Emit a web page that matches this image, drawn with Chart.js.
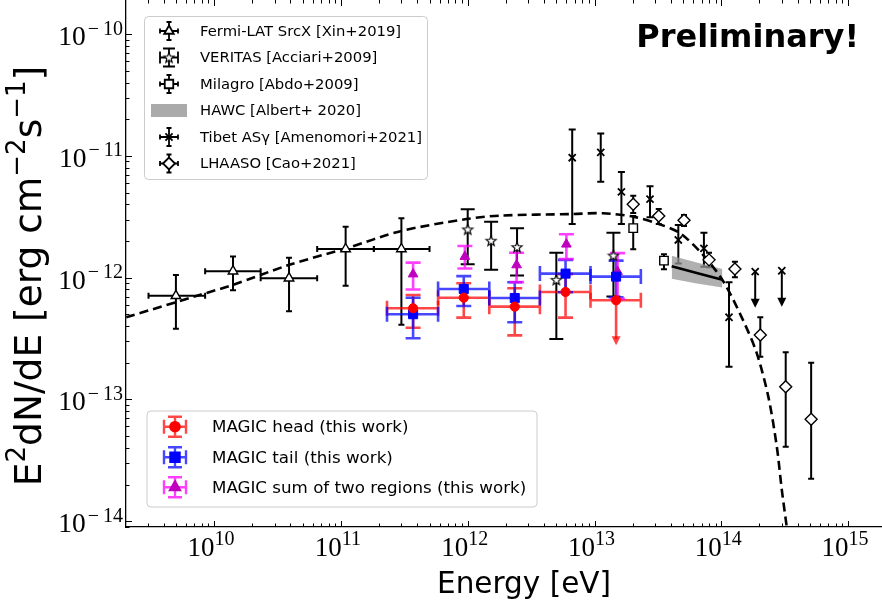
<!DOCTYPE html>
<html>
<head>
<meta charset="UTF-8">
<title>Spectral energy distribution</title>
<style>
  body { margin: 0; background: #fff; }
  canvas { display: block; }
</style>
<script src="https://cdn.jsdelivr.net/npm/chart.js@4.4.0/dist/chart.umd.min.js"></script>
</head>
<body>
<canvas id="canvas" width="882" height="610"></canvas>
<script>
// ---- data (E in eV, E^2 dN/dE in erg cm^-2 s^-1) ----
var fermiE    = [5.0e9, 1.41e10, 3.9e10, 1.09e11, 3.0e11];
var fermiELo  = [3.04e9, 8.5e9, 2.33e10, 6.5e10, 1.82e11];
var fermiEHi  = [8.5e9, 2.33e10, 6.5e10, 1.82e11, 5.0e11];
var fermiF    = [7.1e-13, 1.13e-12, 9.9e-13, 1.72e-12, 1.72e-12];
var fermiFLo  = [3.8e-13, 7.9e-13, 5.3e-13, 8.6e-13, 4.1e-13];
var fermiFHi  = [1.05e-12, 1.49e-12, 1.46e-12, 2.62e-12, 3.08e-12];

var verE   = [1.0e12, 1.53e12, 2.45e12, 5.0e12, 1.41e13];
var verF   = [2.49e-12, 2.01e-12, 1.78e-12, 9.6e-13, 1.52e-12];
var verFLo = [1.29e-12, 1.16e-12, 1.04e-12, 3.14e-13, 7.0e-13];
var verFHi = [3.65e-12, 2.88e-12, 2.55e-12, 1.60e-12, 2.34e-12];

var milE   = [2.02e13, 3.53e13];
var milF   = [2.55e-12, 1.38e-12];
var milFLo = [1.71e-12, 1.17e-12];
var milFHi = [3.21e-12, 1.56e-12];

var tibE   = [6.67e12, 1.12e13, 1.63e13, 2.74e13, 4.58e13, 7.29e13, 1.15e14, 1.85e14, 3.0e14];
var tibF   = [9.66e-12, 1.07e-11, 5.06e-12, 4.41e-12, 2.04e-12, 1.74e-12, 4.73e-13, 1.12e-12, 1.14e-12];
var tibFLo = [2.76e-12, 6.14e-12, 2.76e-12, 3.13e-12, 1.31e-12, 1.23e-12, 1.86e-13, null, null];
var tibFHi = [1.65e-11, 1.53e-11, 7.38e-12, 5.62e-12, 2.71e-12, 2.34e-12, 9.17e-13, null, null];
var tibUL  = [false, false, false, false, false, false, false, true, true];

var lhE   = [2.02e13, 3.21e13, 5.08e13, 8.0e13, 1.28e14, 2.03e14, 3.22e14, 5.11e14];
var lhF   = [4.01e-12, 3.21e-12, 2.96e-12, 1.40e-12, 1.18e-12, 3.39e-13, 1.27e-13, 6.87e-14];
var lhFLo = [3.40e-12, 2.76e-12, 2.65e-12, 1.22e-12, 1.01e-12, 2.24e-13, 4.09e-14, 2.23e-14];
var lhFHi = [4.71e-12, 3.67e-12, 3.27e-12, 1.60e-12, 1.35e-12, 4.73e-13, 2.44e-13, 2.0e-13];

var hawcE  = [4.06e13, 6.4e13, 1.02e14];
var hawcF  = [1.24e-12, 1.09e-12, 9.6e-13];
var hawcLo = [9.8e-13, 8.95e-13, 8.3e-13];
var hawcHi = [1.51e-12, 1.335e-12, 1.18e-12];

var modelE = [2.03e9, 7.69e9, 1.40e10, 3.87e10, 1.10e11, 3.01e11, 9.8e11, 1.79e12, 6.67e12, 1.17e13,
              2.02e13, 3.21e13, 4.72e13, 7.21e13, 1.04e14, 1.48e14, 1.90e14, 2.35e14, 2.74e14, 3.0e14, 3.28e14];
var modelF = [4.73e-13, 7.21e-13, 8.71e-13, 1.27e-12, 1.74e-12, 2.42e-12, 3.03e-12, 3.23e-12, 3.33e-12, 3.38e-12,
              3.17e-12, 2.76e-12, 2.32e-12, 1.53e-12, 9.27e-13, 4.50e-13, 2.41e-13, 1.05e-13, 4.09e-14, 1.81e-14, 9.0e-15];

var magE    = [3.71e11, 9.31e11, 2.35e12, 5.91e12, 1.48e13];
var magELo  = [2.31e11, 5.84e11, 1.48e12, 3.71e12, 9.3e12];
var magEHi  = [5.84e11, 1.48e12, 3.71e12, 9.3e12, 2.32e13];
var headF   = [5.61e-13, 6.85e-13, 5.78e-13, 7.63e-13, 6.52e-13];
var headFLo = [3.88e-13, 4.70e-13, 3.36e-13, 4.70e-13, null];
var headFHi = [7.21e-13, 8.99e-13, 8.18e-13, 1.07e-12, null];
var headUL  = [false, false, false, false, true];
var tailF   = [5.01e-13, 8.07e-13, 6.81e-13, 1.08e-12, 1.02e-12];
var tailFLo = [3.18e-13, 5.86e-13, 4.31e-13, 7.59e-13, 6.90e-13];
var tailFHi = [6.85e-13, 1.03e-12, 9.17e-13, 1.40e-12, 1.38e-12];
var sumE    = [3.71e11, 9.5e11, 2.43e12, 6.0e12, 1.52e13];
var sumF    = [1.07e-12, 1.49e-12, 1.27e-12, 1.88e-12, 1.12e-12];
var sumFLo  = [8.0e-13, 1.19e-12, 9.2e-13, 1.42e-12, 6.7e-13];
var sumFHi  = [1.33e-12, 1.82e-12, 1.60e-12, 2.27e-12, 1.59e-12];

var xTickPowers = [10, 11, 12, 13, 14, 15];
var yTickPowers = [-14, -13, -12, -11, -10];
var legend1Labels = ['Fermi-LAT SrcX [Xin+2019]', 'VERITAS [Acciari+2009]', 'Milagro [Abdo+2009]',
                     'HAWC [Albert+ 2020]', 'Tibet AS\u03b3 [Amenomori+2021]', 'LHAASO [Cao+2021]'];
var legend2Labels = ['MAGIC head (this work)', 'MAGIC tail (this work)', 'MAGIC sum of two regions (this work)'];

var xMin = 2.02e9, xMax = 1.85e15;
var yMin = 8.97e-15, yMax = 1.905e-10;

// ---- marker styles ----
function makeStar() {
	var c = document.createElement('canvas');
	c.width = 14; c.height = 14;
	var g = c.getContext('2d');
	g.beginPath();
	for (var i = 0; i < 10; i++) {
		var r = i % 2 ? 2.3 : 5.3, a = -Math.PI / 2 + i * Math.PI / 5;
		g.lineTo(7 + r * Math.cos(a), 7.4 + r * Math.sin(a));
	}
	g.closePath();
	g.fillStyle = '#fff'; g.fill();
	g.strokeStyle = '#000'; g.lineWidth = 1.2; g.stroke();
	return c;
}
var starImg = makeStar();

var mk = {
	fermi: { pointStyle: 'triangle', radius: 5.5, bg: '#fff', border: '#000', bw: 1.4 },
	ver:   { pointStyle: starImg, radius: 6, bg: '#fff', border: '#000', bw: 1.2 },
	mil:   { pointStyle: 'rect', radius: 6, bg: '#fff', border: '#000', bw: 1.4 },
	tib:   { pointStyle: 'crossRot', radius: 5, bg: '#000', border: '#000', bw: 1.8 },
	lh:    { pointStyle: 'rectRot', radius: 6, bg: '#fff', border: '#000', bw: 1.4 },
	head:  { pointStyle: 'circle', radius: 4.6, bg: '#ff0000', border: '#ff0000', bw: 1 },
	tail:  { pointStyle: 'rect', radius: 6.4, bg: '#0000ff', border: '#0000ff', bw: 1 },
	sum:   { pointStyle: 'triangle', radius: 5.6, bg: '#bf00bf', border: '#bf00bf', bw: 1 }
};

// ---- error bar sets ----
var errSets = [
	{ e: fermiE, f: fermiF, eLo: fermiELo, eHi: fermiEHi, fLo: fermiFLo, fHi: fermiFHi, color: '#000', width: 2, cap: 3 },
	{ e: verE, f: verF, fLo: verFLo, fHi: verFHi, color: '#000', width: 2, cap: 7 },
	{ e: milE, f: milF, fLo: milFLo, fHi: milFHi, color: '#000', width: 2, cap: 3 },
	{ e: tibE, f: tibF, fLo: tibFLo, fHi: tibFHi, ul: tibUL, ulLen: 36, color: '#000', width: 2, cap: 3.5 },
	{ e: lhE, f: lhF, fLo: lhFLo, fHi: lhFHi, color: '#000', width: 2, cap: 3 },
	{ e: magE, f: headF, eLo: magELo, eHi: magEHi, fLo: headFLo, fHi: headFHi, ul: headUL, ulLen: 45, color: 'rgba(255,0,0,0.72)', width: 2.6, cap: 7.5 },
	{ e: magE, f: tailF, eLo: magELo, eHi: magEHi, fLo: tailFLo, fHi: tailFHi, color: 'rgba(0,0,255,0.72)', width: 2.6, cap: 7.5 },
	{ e: sumE, f: sumF, fLo: sumFLo, fHi: sumFHi, color: 'rgba(255,0,255,0.75)', width: 2.6, cap: 7.5 }
];

function pts(xs, ys) { return xs.map(function (x, i) { return { x: x, y: ys[i] }; }); }

function scatterSet(label, xs, ys, m) {
	return {
		label: label, data: pts(xs, ys), showLine: false, order: 0,
		pointStyle: m.pointStyle, pointRadius: m.radius, pointHoverRadius: m.radius,
		pointBackgroundColor: m.bg, pointBorderColor: m.border, pointBorderWidth: m.bw
	};
}

function drawErr(ctx, xs, ys, s) {
	ctx.strokeStyle = s.color; ctx.fillStyle = s.color; ctx.lineWidth = s.width;
	s.e.forEach(function (e, i) {
		var x = xs.getPixelForValue(e), y = ys.getPixelForValue(s.f[i]);
		ctx.beginPath();
		if (s.eLo) {
			var x0 = xs.getPixelForValue(s.eLo[i]), x1 = xs.getPixelForValue(s.eHi[i]);
			ctx.moveTo(x0, y); ctx.lineTo(x1, y);
			ctx.moveTo(x0, y - s.cap); ctx.lineTo(x0, y + s.cap);
			ctx.moveTo(x1, y - s.cap); ctx.lineTo(x1, y + s.cap);
		}
		if (s.fLo && s.fLo[i] != null) {
			var y0 = ys.getPixelForValue(s.fLo[i]), y1 = ys.getPixelForValue(s.fHi[i]);
			ctx.moveTo(x, y0); ctx.lineTo(x, y1);
			ctx.moveTo(x - s.cap, y0); ctx.lineTo(x + s.cap, y0);
			ctx.moveTo(x - s.cap, y1); ctx.lineTo(x + s.cap, y1);
		}
		if (s.ul && s.ul[i]) {
			ctx.moveTo(x, y); ctx.lineTo(x, y + s.ulLen - 6);
		}
		ctx.stroke();
		if (s.ul && s.ul[i]) {
			ctx.beginPath();
			ctx.moveTo(x - 4.5, y + s.ulLen - 9); ctx.lineTo(x + 4.5, y + s.ulLen - 9); ctx.lineTo(x, y + s.ulLen);
			ctx.closePath(); ctx.fill();
		}
	});
}

// 10^k with a raised exponent; the minus gets a little room like TeX's
function drawPow(ctx, k, x, y, align, bf, sf, rise) {
	var base = '10', digits = String(Math.abs(k)), minus = k < 0 ? '\u2212' : '';
	ctx.font = bf; var wb = ctx.measureText(base).width;
	ctx.font = sf;
	var wm = minus ? ctx.measureText(minus).width + 6 : 0;
	var wd = ctx.measureText(digits).width;
	var total = wb + wm + wd;
	var x0 = align === 'right' ? x - total : x - total / 2;
	ctx.textAlign = 'left'; ctx.textBaseline = 'alphabetic';
	ctx.font = bf; ctx.fillText(base, x0, y);
	ctx.font = sf;
	if (minus) ctx.fillText(minus, x0 + wb + 2, y - rise);
	ctx.fillText(digits, x0 + wb + wm, y - rise);
}

function drawRich(ctx, parts, size) {
	var bf = size + 'px "DejaVu Sans"', sf = Math.round(size * 0.7) + 'px "DejaVu Sans"';
	var w = 0;
	parts.forEach(function (p) { ctx.font = p[1] ? sf : bf; w += ctx.measureText(p[0]).width; });
	var x = -w / 2;
	ctx.textAlign = 'left'; ctx.textBaseline = 'alphabetic';
	parts.forEach(function (p) {
		ctx.font = p[1] ? sf : bf;
		ctx.fillText(p[0], x, p[1] ? -size * 0.42 : 0);
		x += ctx.measureText(p[0]).width;
	});
}

function legendMarker(ctx, m, x, y, errColor, lw, hx, hy, cap) {
	ctx.strokeStyle = errColor; ctx.lineWidth = lw;
	ctx.beginPath();
	ctx.moveTo(x - hx, y); ctx.lineTo(x + hx, y);
	ctx.moveTo(x - hx, y - cap); ctx.lineTo(x - hx, y + cap);
	ctx.moveTo(x + hx, y - cap); ctx.lineTo(x + hx, y + cap);
	ctx.moveTo(x, y - hy); ctx.lineTo(x, y + hy);
	ctx.moveTo(x - cap, y - hy); ctx.lineTo(x + cap, y - hy);
	ctx.moveTo(x - cap, y + hy); ctx.lineTo(x + cap, y + hy);
	ctx.stroke();
	ctx.fillStyle = m.bg; ctx.strokeStyle = m.border;
	Chart.helpers.drawPoint(ctx, { pointStyle: m.pointStyle, radius: m.radius, rotation: 0, borderWidth: m.bw }, x, y);
}

function legendBox(ctx, x, y, w, h) {
	ctx.beginPath();
	ctx.roundRect(x, y, w, h, 4);
	ctx.fillStyle = 'rgba(255,255,255,0.8)'; ctx.fill();
	ctx.strokeStyle = '#cccccc'; ctx.lineWidth = 1; ctx.stroke();
}

var sedPlugin = {
	id: 'sed',
	beforeDatasetsDraw: function (chart) {
		var ctx = chart.ctx, a = chart.chartArea;
		ctx.save();
		ctx.beginPath(); ctx.rect(a.left, a.top, a.right - a.left, a.bottom - a.top); ctx.clip();
		errSets.forEach(function (s) { drawErr(ctx, chart.scales.x, chart.scales.y, s); });
		ctx.restore();
	},
	afterDraw: function (chart) {
		var ctx = chart.ctx, a = chart.chartArea, xs = chart.scales.x, ys = chart.scales.y;
		ctx.save();
		// inward ticks
		ctx.strokeStyle = '#000'; ctx.lineWidth = 1;
		ctx.beginPath();
		for (var k = 9; k <= 15; k++) for (var m = 1; m < 10; m++) {
			var v = m * Math.pow(10, k);
			if (v < xs.min || v > xs.max) continue;
			var px = Math.round(xs.getPixelForValue(v)) + 0.5, len = m === 1 ? 6 : 3.5;
			ctx.moveTo(px, a.bottom); ctx.lineTo(px, a.bottom - len);
			ctx.moveTo(px, a.top); ctx.lineTo(px, a.top + len);
		}
		for (var k2 = -15; k2 <= -10; k2++) for (var m2 = 1; m2 < 10; m2++) {
			var v2 = m2 * Math.pow(10, k2);
			if (v2 < ys.min || v2 > ys.max) continue;
			var py = Math.round(ys.getPixelForValue(v2)) + 0.5, len2 = m2 === 1 ? 6 : 3.5;
			ctx.moveTo(a.left, py); ctx.lineTo(a.left + len2, py);
		}
		ctx.stroke();

		// tick labels
		ctx.fillStyle = '#000';
		xTickPowers.forEach(function (k) {
			drawPow(ctx, k, xs.getPixelForValue(Math.pow(10, k)) - 3, 556, 'center',
				'27px "Liberation Serif"', '20px "Liberation Serif"', 11);
		});
		yTickPowers.forEach(function (k) {
			var y = ys.getPixelForValue(Math.pow(10, k));
			drawPow(ctx, k, a.left - 3, y + 11, 'right',
				'27.5px "Liberation Serif"', '20px "Liberation Serif"', 10.5);
		});

		// axis titles
		ctx.font = '29.5px "DejaVu Sans"'; ctx.textAlign = 'center'; ctx.textBaseline = 'alphabetic';
		ctx.fillText('Energy [eV]', 524, 593);
		ctx.save();
		ctx.translate(41, 276); ctx.rotate(-Math.PI / 2);
		drawRich(ctx, [['E', 0], ['2', 1], ['dN/dE [erg cm', 0], ['\u22122', 1], ['s', 0], ['\u22121', 1], [']', 0]], 37.5);
		ctx.restore();

		// Preliminary
		ctx.font = 'bold 32px "DejaVu Sans"'; ctx.textAlign = 'right';
		ctx.fillText('Preliminary!', 859, 47);

		// legend 1
		legendBox(ctx, 144.5, 16.5, 283, 163);
		var l1y = [31, 57.5, 84, 110.5, 137, 163.5];
		var l1m = [mk.fermi, mk.ver, mk.mil, null, mk.tib, mk.lh];
		var l1cap = [2.5, 6, 2.5, 0, 2.5, 2.5];
		l1y.forEach(function (y, i) {
			if (l1m[i]) legendMarker(ctx, l1m[i], 169, y, '#000', 1.8, 9, 9, l1cap[i]);
			else { ctx.fillStyle = '#aaaaaa'; ctx.fillRect(151, y - 6.5, 36, 13); }
			ctx.fillStyle = '#000'; ctx.font = '14.8px "DejaVu Sans"'; ctx.textAlign = 'left'; ctx.textBaseline = 'middle';
			ctx.fillText(legend1Labels[i], 200, y + 1);
		});

		// legend 2
		legendBox(ctx, 147, 411, 390, 96);
		var l2y = [426.7, 457.3, 487.3];
		var l2m = [mk.head, mk.tail, mk.sum];
		var l2c = ['rgba(255,0,0,0.72)', 'rgba(0,0,255,0.72)', 'rgba(255,0,255,0.75)'];
		l2y.forEach(function (y, i) {
			legendMarker(ctx, l2m[i], 175, y, l2c[i], 2.4, 11, 10, 7);
			ctx.fillStyle = '#000'; ctx.font = '16.7px "DejaVu Sans"'; ctx.textAlign = 'left'; ctx.textBaseline = 'middle';
			ctx.fillText(legend2Labels[i], 212, y + 1);
		});
		ctx.restore();
	}
};

var datasets = [
	{ label: 'model', data: pts(modelE, modelF), showLine: true, borderColor: '#000', borderWidth: 2.6,
	  borderDash: [9, 5], pointRadius: 0, tension: 0.3, fill: false, order: 1 },
	{ label: 'HAWC band', data: pts(hawcE, hawcHi), showLine: true, borderWidth: 0, pointRadius: 0,
	  fill: '+1', backgroundColor: 'rgba(150,150,150,0.75)', order: 5 },
	{ label: 'HAWC band low', data: pts(hawcE, hawcLo), showLine: true, borderWidth: 0, pointRadius: 0, fill: false, order: 5 },
	{ label: 'HAWC', data: pts(hawcE, hawcF), showLine: true, borderColor: '#000', borderWidth: 2.6, pointRadius: 0, fill: false, order: 2 },
	scatterSet('Fermi-LAT', fermiE, fermiF, mk.fermi),
	scatterSet('VERITAS', verE, verF, mk.ver),
	scatterSet('Milagro', milE, milF, mk.mil),
	scatterSet('Tibet', tibE, tibF, mk.tib),
	scatterSet('LHAASO', lhE, lhF, mk.lh),
	scatterSet('MAGIC head', magE, headF, mk.head),
	scatterSet('MAGIC tail', magE, tailF, mk.tail),
	scatterSet('MAGIC sum', sumE, sumF, mk.sum)
];

new Chart(document.getElementById('canvas').getContext('2d'), {
	type: 'scatter',
	data: { datasets: datasets },
	options: {
		responsive: false,
		animation: false,
		layout: { padding: 0, autoPadding: false },
		plugins: { legend: { display: false }, tooltip: { enabled: false } },
		scales: {
			x: {
				type: 'logarithmic', min: xMin, max: xMax,
				grid: { display: false, drawTicks: false }, ticks: { display: false },
				border: { display: true, color: '#000', width: 1.3 },
				afterFit: function (s) { s.height = 83; }
			},
			y: {
				type: 'logarithmic', min: yMin, max: yMax,
				grid: { display: false, drawTicks: false }, ticks: { display: false },
				border: { display: true, color: '#000', width: 1.3 },
				afterFit: function (s) { s.width = 126; }
			}
		}
	},
	plugins: [sedPlugin]
});
</script>
</body>
</html>
